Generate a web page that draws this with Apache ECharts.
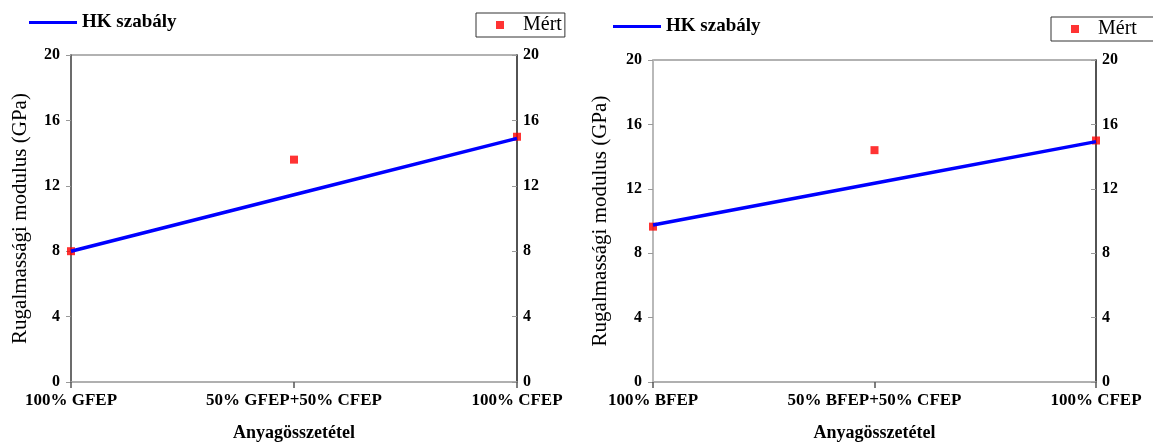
<!DOCTYPE html>
<html>
<head>
<meta charset="utf-8">
<script src="https://cdn.jsdelivr.net/npm/echarts@6/dist/echarts.min.js"></script>
<style>
html,body{margin:0;padding:0;background:#fff;}
#c{width:1153px;height:447px;}
</style>
</head>
<body>
<div id="c"></div>
<script>
// ---- data ----
const categoriesA = ['100% GFEP', '50% GFEP+50% CFEP', '100% CFEP'];
const categoriesB = ['100% BFEP', '50% BFEP+50% CFEP', '100% CFEP'];
const hkA = [8.0, 11.45, 14.9];
const mertA = [8.0, 13.6, 15.0];
const hkB = [9.75, 12.35, 14.93];
const mertB = [9.65, 14.4, 15.0];
const yMin = 0, yMax = 20, yStep = 4;
const hkName = 'HK szabály';
const mertName = 'Mért';
const yTitle = 'Rugalmassági modulus (GPa)';
const xTitle = 'Anyagösszetétel';

const FONT = '"Liberation Serif", "Times New Roman", serif';

function xAxisCfg(gi, cats) {
  return {
    type: 'category', gridIndex: gi, data: cats, boundaryGap: false,
    axisLine: {lineStyle: {color: '#b0b0b0', width: 1.5}},
    axisTick: {show: true, length: 6, inside: false, lineStyle: {color: '#555', width: 1.5}},
    axisLabel: {interval: 0, margin: 10, fontFamily: FONT, fontSize: 17, fontWeight: 'bold', color: '#000'},
    name: xTitle, nameLocation: 'middle', nameGap: 42,
    nameTextStyle: {fontFamily: FONT, fontSize: 18, fontWeight: 'bold', color: '#000'},
    splitLine: {show: false}
  };
}
function yAxisCfg(gi, pos, lineColor, withName, nameGap) {
  const a = {
    type: 'value', gridIndex: gi, position: pos, min: yMin, max: yMax, interval: yStep,
    axisLine: {show: true, lineStyle: {color: lineColor, width: 1.5}},
    axisTick: {show: true, length: 5, inside: pos === 'right', lineStyle: {color: '#999'}},
    axisLabel: {margin: pos === 'right' ? 6 : 11, fontFamily: FONT, fontSize: 16, fontWeight: 'bold', color: '#000'},
    splitLine: {show: false}
  };
  if (withName) {
    a.name = yTitle; a.nameLocation = 'middle'; a.nameGap = nameGap;
    a.nameTextStyle = {fontFamily: FONT, fontSize: 21, color: '#000'};
  }
  return a;
}

const option = {
  backgroundColor: '#fff',
  animation: false,
  grid: [
    {left: 71, top: 55, width: 446, height: 328, show: true, borderColor: '#999', borderWidth: 1.5},
    {left: 653, top: 60, width: 443, height: 325, show: true, borderColor: '#999', borderWidth: 1.5}
  ],
  legend: [
    {data: [{name: hkName, icon: 'rect'}], left: 29, top: 13, padding: 0, itemWidth: 48, itemHeight: 3,
     textStyle: {fontFamily: FONT, fontSize: 19, fontWeight: 'bold', color: '#000'}, selectedMode: false},
    {data: [{name: mertName, icon: 'rect'}], left: 476, top: 13, padding: [2, 3, 2, 20], itemWidth: 8, itemHeight: 8,
     borderColor: '#333', borderWidth: 1, backgroundColor: '#fff',
     textStyle: {fontFamily: FONT, fontSize: 20, color: '#000', padding: [0, 0, 0, 14]}, selectedMode: false},
    {data: [{name: hkName, icon: 'rect'}], left: 613, top: 17, padding: 0, itemWidth: 48, itemHeight: 3,
     textStyle: {fontFamily: FONT, fontSize: 19, fontWeight: 'bold', color: '#000'}, selectedMode: false},
    {data: [{name: mertName, icon: 'rect'}], left: 1051, top: 17, padding: [2, 20, 2, 20], itemWidth: 8, itemHeight: 8,
     borderColor: '#333', borderWidth: 1, backgroundColor: '#fff',
     textStyle: {fontFamily: FONT, fontSize: 20, color: '#000', padding: [0, 0, 0, 14]}, selectedMode: false}
  ],
  xAxis: [xAxisCfg(0, categoriesA), xAxisCfg(1, categoriesB)],
  yAxis: [
    yAxisCfg(0, 'left', '#555', true, 40),
    yAxisCfg(0, 'right', '#333', false),
    yAxisCfg(1, 'left', '#bbb', true, 42),
    yAxisCfg(1, 'right', '#333', false)
  ],
  series: [
    {name: mertName, type: 'scatter', xAxisIndex: 0, yAxisIndex: 0, data: mertA, symbol: 'rect', symbolSize: 8,
     itemStyle: {color: '#ff0000'}, z: 2},
    {name: hkName, type: 'line', xAxisIndex: 0, yAxisIndex: 0, data: hkA, showSymbol: false, symbol: 'none',
     lineStyle: {color: '#0000ff', width: 3.5}, itemStyle: {color: '#0000ff'}, z: 3},
    {name: mertName, type: 'scatter', xAxisIndex: 1, yAxisIndex: 2, data: mertB, symbol: 'rect', symbolSize: 8,
     itemStyle: {color: '#ff0000'}, z: 2},
    {name: hkName, type: 'line', xAxisIndex: 1, yAxisIndex: 2, data: hkB, showSymbol: false, symbol: 'none',
     lineStyle: {color: '#0000ff', width: 3.5}, itemStyle: {color: '#0000ff'}, z: 3}
  ]
};
const chart = echarts.init(document.getElementById('c'), null, {renderer: 'canvas'});
chart.setOption(option);
</script>
</body>
</html>
